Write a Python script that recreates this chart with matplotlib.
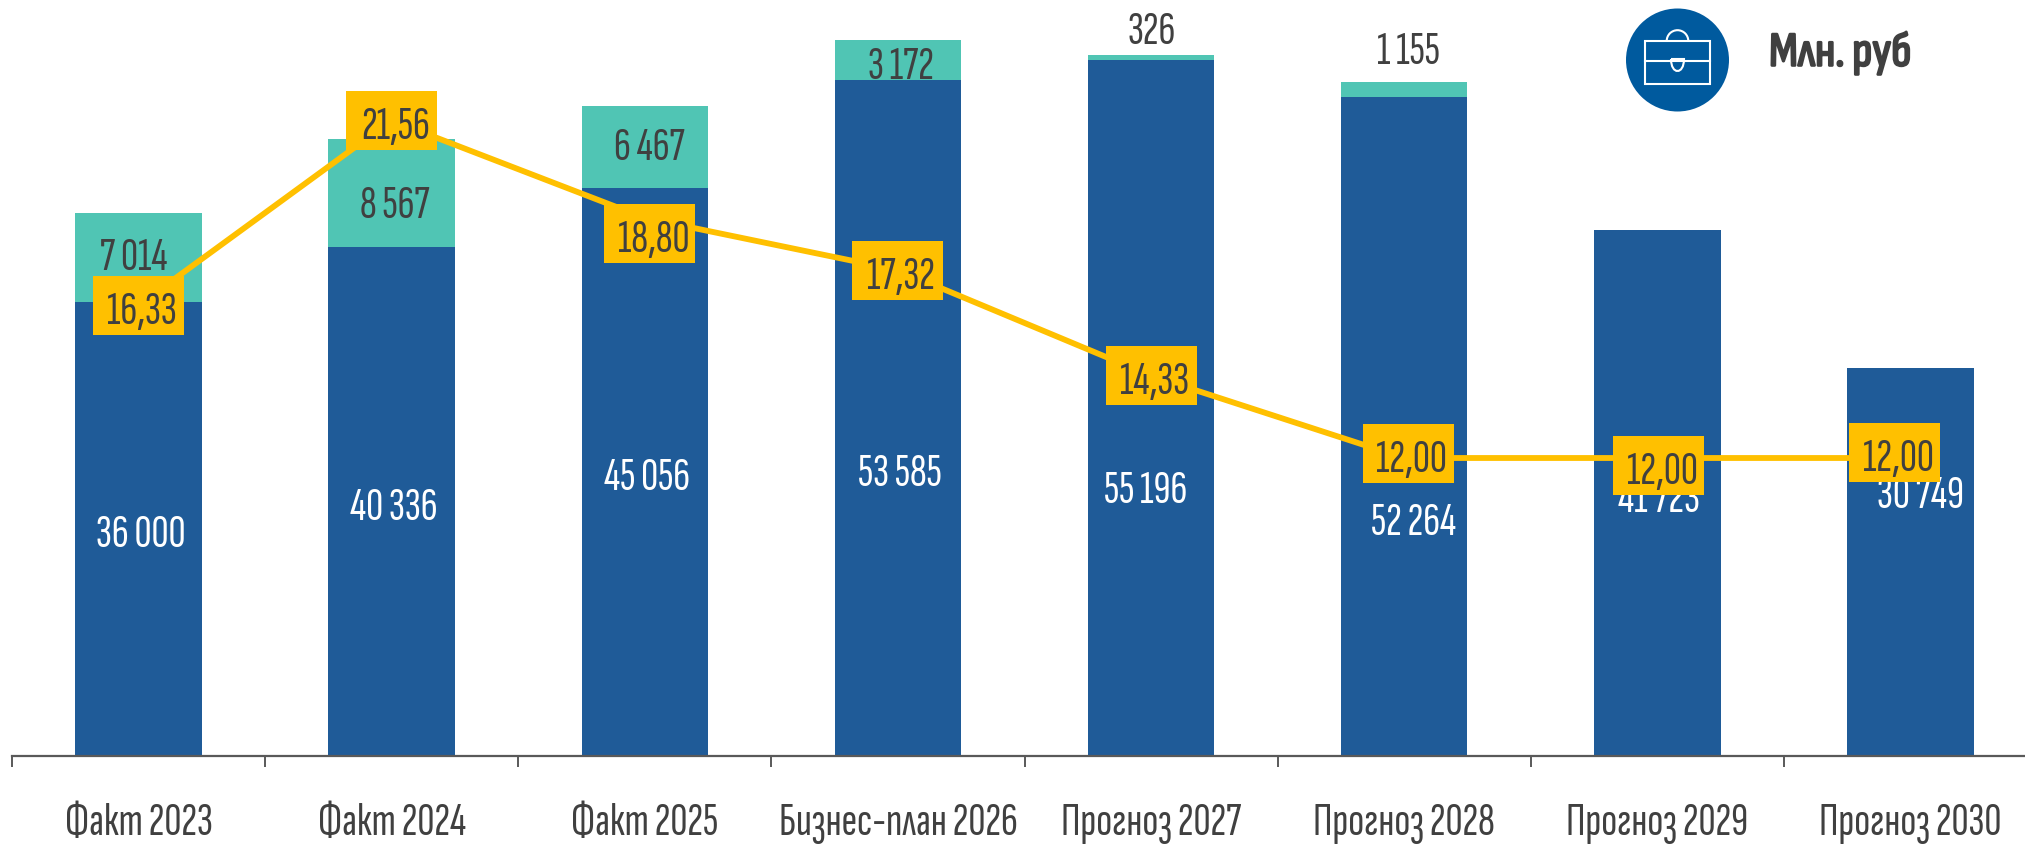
import matplotlib
matplotlib.use('Agg')
import matplotlib.pyplot as plt
import matplotlib.patheffects as pe
from matplotlib.patches import Circle, Rectangle, Arc, PathPatch
from matplotlib.path import Path
from matplotlib.transforms import IdentityTransform

plt.rcParams['font.family'] = ['Sofia Sans Extra Condensed', 'Liberation Sans Narrow', 'DejaVu Sans']

labels = ['Факт 2023', 'Факт 2024', 'Факт 2025', 'Бизнес-план 2026',
          'Прогноз 2027', 'Прогноз 2028', 'Прогноз 2029', 'Прогноз 2030']
blue_values = [36000, 40336, 45056, 53585, 55196, 52264, 41723, 30749]
teal_values = [7014, 8567, 6467, 3172, 326, 1155, 0, 0]
line_values = [16.33, 21.56, 18.80, 17.32, 14.33, 12.00, 12.00, 12.00]

# сдвиги подписей от центра сегмента, в пикселях
blue_offsets = [(2.5, -2), (2.5, -2.5), (2, -2), (2, -52), (-5, -79), (9, -93), (2, -3), (10, 70)]
teal_offsets = [(-5, 3.5), (3, -9), (5, 3), (3, -3), (0.5, 29.5), (4, 41.6)]
box_offsets = [(0, 0), (0, 0), (5, -15.5), (0, 0), (0, 0), (4, 4.5), (1.5, -7.5), (-15.5, 5.5)]

BLUE = '#1F5B98'
TEAL = '#50C5B4'
YELLOW = '#FFC000'
DARK = '#404040'
FS = 34


def num(v):
    return f'{v:,}'.replace(',', ' ')


fig = plt.figure(figsize=(20.25, 8.45), dpi=100)
ax = fig.add_axes([12 / 2025, 88 / 845, 1, 757 / 845])
x = list(range(len(labels)))

ax.bar(x, blue_values, width=0.5, color=BLUE, zorder=2)
ax.bar(x, teal_values, width=0.5, bottom=blue_values, color=TEAL, zorder=2)
ax.set_xlim(-0.5, 7.5)
ax.set_ylim(0, 60000)
ax.set_yticks([])
for s in ['top', 'left', 'right']:
    ax.spines[s].set_visible(False)
ax.spines['bottom'].set_color('#595959')
ax.spines['bottom'].set_linewidth(1.6)
ax.set_xticks(x, labels, fontsize=FS, color=DARK)
ax.tick_params(axis='x', which='major', length=0, pad=56.5)
plt.setp(ax.get_xticklabels(), va='baseline')
ax.set_xticks([i - 0.5 for i in range(len(labels) + 1)], minor=True)
ax.tick_params(axis='x', which='minor', length=8, width=1.4, color='#595959')

for i, v in enumerate(blue_values):
    dx, dy = blue_offsets[i]
    ax.annotate(num(v), (i, v / 2), xytext=(dx, dy - 15), textcoords='offset pixels',
                ha='center', va='baseline', color='white', fontsize=FS, zorder=3)
for i, v in enumerate(teal_values[:6]):
    dx, dy = teal_offsets[i]
    ax.annotate(num(v), (i, blue_values[i] + v / 2), xytext=(dx, dy - 15), textcoords='offset pixels',
                ha='center', va='baseline', color=DARK, fontsize=FS, zorder=3)

# линия на своей оси
ax2 = fig.add_axes(ax.get_position(), sharex=ax)
ax2.patch.set_visible(False)
ax2.set_ylim(3.56, 25.0)
ax2.axis('off')
ax2.plot(x, line_values, color=YELLOW, lw=4.2, solid_joinstyle='miter', zorder=4)

fig.canvas.draw()
for i, v in enumerate(line_values):
    dx, dy = box_offsets[i]
    px, py = ax2.transData.transform((i, v))
    px += dx
    py += dy
    ax2.add_patch(Rectangle((px - 45.5, py - 29.5), 91, 59, transform=IdentityTransform(),
                            facecolor=YELLOW, edgecolor='none', zorder=5))
    ax2.text(px + 3.5, py - 17.5, f'{v:.2f}'.replace('.', ','), transform=IdentityTransform(),
             ha='center', va='baseline', color=DARK, fontsize=FS, zorder=6)

# значок и подпись единиц, координаты в пикселях картинки
top = fig.add_axes([0, 0, 1, 1])
top.set_xlim(0, 2025)
top.set_ylim(845, 0)
top.axis('off')
top.add_patch(Circle((1677.5, 61), 51.5, facecolor='#005A9E', edgecolor='none'))
ICON = dict(edgecolor='white', facecolor='none', lw=1.5)
top.add_patch(Rectangle((1645, 41.7), 65, 43.3, **ICON))
top.plot([1645, 1710], [62.3, 62.3], color='white', lw=1.5)
top.add_patch(Arc((1677.5, 42), 21.6, 21.6, theta1=180, theta2=360, edgecolor='white', lw=1.5))
top.add_patch(PathPatch(Path([(1671, 60), (1671, 76), (1684, 76), (1684, 60), (1671, 60)],
                             [Path.MOVETO, Path.CURVE4, Path.CURVE4, Path.CURVE4, Path.LINETO]),
                        facecolor='#005A9E', edgecolor='white', lw=1.5))
unit = top.text(1769, 66.7, 'Млн. руб', ha='left', va='baseline', color=DARK, fontsize=35,
                family=['Sofia Sans Condensed', 'Roboto Condensed', 'DejaVu Sans'])
unit.set_path_effects([pe.withStroke(linewidth=1.6, foreground=DARK)])

fig.savefig('out.png', dpi=100)
